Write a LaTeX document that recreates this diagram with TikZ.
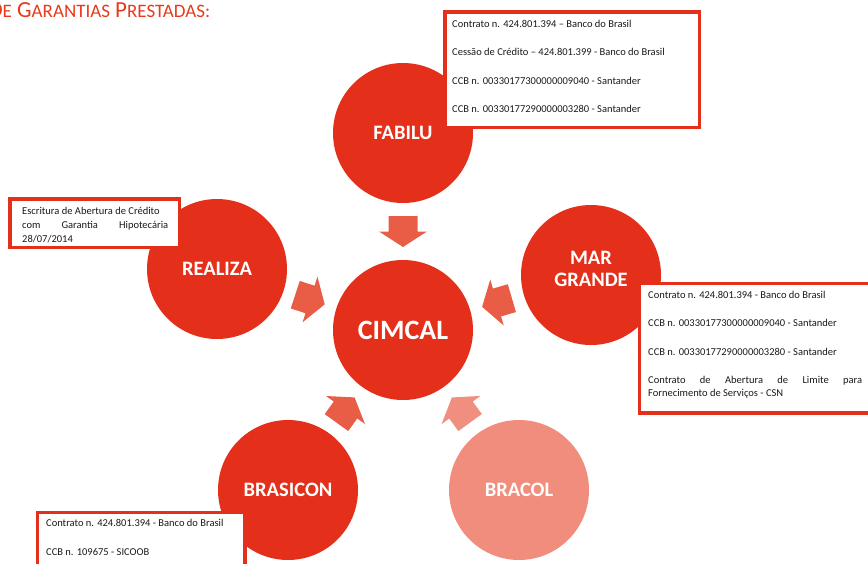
\documentclass[tikz,border=0pt]{standalone}
\usepackage{fontspec}
\setmainfont{Carlito}
\usetikzlibrary{calc}
\definecolor{cred}{HTML}{E4301A}
\definecolor{carrow}{HTML}{E95D47}
\definecolor{clight}{HTML}{F18D7D}
\definecolor{clightarrow}{HTML}{F08E7F}
\definecolor{ctext}{HTML}{1A1A1A}
\definecolor{ctitle}{HTML}{E63B1B}
\begin{document}
\begin{tikzpicture}[x=1pt,y=-1pt,
  circ/.style={circle, minimum size=140pt, inner sep=0pt, fill=cred, text=white,
    font=\bfseries\fontsize{20.5}{23}\selectfont, align=center},
  circtext/.style={text=white, font=\bfseries\fontsize{20.5}{22.5}\selectfont, align=center, inner sep=0pt},
  infobox/.style={draw=cred, line width=3.5pt, fill=white, inner sep=0pt},
  infotext/.style={text=ctext, font=\fontsize{10.5}{13.5}\selectfont, inner sep=0pt,
    anchor=north west, align=left},
]
\useasboundingbox (0,0) rectangle (868,563);
\clip (0,0) rectangle (868,563);

% title
\node[anchor=base west, text=ctitle, font=\fontsize{23}{25}\selectfont, inner sep=0pt] (title) at (17,17)
  {\llap{D{\fontsize{19}{20}\selectfont E}\ }G{\fontsize{19}{20}\selectfont ARANTIAS} P{\fontsize{19}{20}\selectfont RESTADAS:}};

% circles
\node[circ] (fabilu) at (403,133) {FABILU};
\node[circ] (realiza) at (217,269) {REALIZA};
\node[circ] (margrande) at (591,275) {};
\node[circtext] (mglabel) at ($(margrande)+(0,-6)$) {MAR\\GRANDE};
\node[circ, font=\bfseries\fontsize{28}{30}\selectfont] (cimcal) at (403,330) {CIMCAL};
\node[circ] (brasicon) at (288,490) {BRASICON};
\node[circ, fill=clight] (bracol) at (519,490) {BRACOL};

% block arrows
\foreach \src/\col in {fabilu/carrow, realiza/carrow, margrande/carrow, brasicon/carrow, bracol/clightarrow}{
  \fill[\col] let \p1=($(cimcal)-(\src)$), \n1={atan2(\y1,\x1)}, \p2=($(\src)!0.5!(cimcal)$) in
    ($(\p2)+(\n1:-15.5pt)+(\n1+90:14.5pt)$) -- ($(\p2)+(\n1+90:14.5pt)$) -- ($(\p2)+(\n1+90:24pt)$)
    -- ($(\p2)+(\n1:15.5pt)$) -- ($(\p2)+(\n1-90:24pt)$) -- ($(\p2)+(\n1-90:14.5pt)$)
    -- ($(\p2)+(\n1:-15.5pt)+(\n1-90:14.5pt)$) -- cycle;
}

% FABILU box
\node[infobox, minimum width=254.5pt, minimum height=115.5pt] (fabbox) at (572,69.5) {};
\node[infotext] (fabtext) at (452,20) {Contrato n. 424.801.394 – Banco do Brasil\\[14.8pt]
Cessão de Crédito – 424.801.399 - Banco do Brasil\\[14.8pt]
CCB n. 00330177300000009040 - Santander\\[14.8pt]
CCB n. 00330177290000003280 - Santander};

% REALIZA box
\node[infobox, minimum width=169.5pt, minimum height=48.5pt] (realbox) at (94.5,223) {};
\node[infotext, font=\fontsize{10.5}{14}\selectfont] (realtext) at (22,207) {Escritura de Abertura de Crédito\\
\hbox to 146pt{com\hfill Garantia\hfill Hipotecária}\\
28/07/2014};

% MAR GRANDE box
\node[infobox, minimum width=280pt, minimum height=129.5pt, anchor=north west] (mgbox) at (637.75,281.75) {};
\node[infotext] (mgtext) at (648,291) {Contrato n. 424.801.394 - Banco do Brasil\\[14.8pt]
CCB n. 00330177300000009040 - Santander\\[14.8pt]
CCB n. 00330177290000003280 - Santander\\[14.8pt]
\hbox to 214pt{Contrato\hfill de\hfill Abertura\hfill de\hfill Limite\hfill para}\\
Fornecimento de Serviços - CSN};

% BRASICON box
\node[infobox, minimum width=207.5pt, minimum height=80pt, anchor=north west] (brbox) at (35.75,510.75) {};
\node[infotext] (brtext) at (46,519.5) {Contrato n. 424.801.394 - Banco do Brasil\\[14.8pt]
CCB n. 109675 - SICOOB};
\end{tikzpicture}
\end{document}
